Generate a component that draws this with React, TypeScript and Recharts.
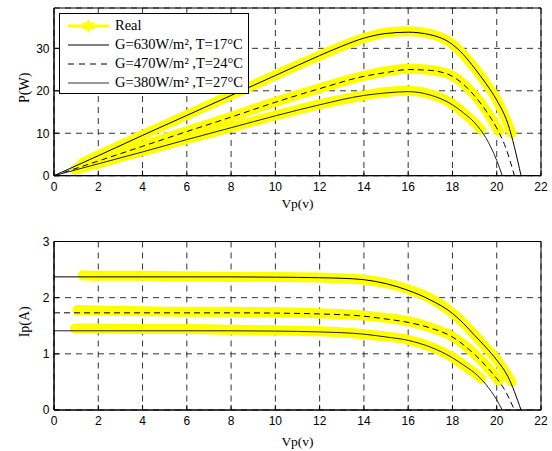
import React from "react";
import {CartesianGrid, Legend, Line, LineChart, ReferenceArea, XAxis, YAxis} from "recharts";

const vTicks = [0, 2, 4, 6, 8, 10, 12, 14, 16, 18, 20, 22];
const pTicks = [0, 10, 20, 30];
const iTicks = [0, 1, 2, 3];

// model G=630W/m², T=17°C
const model630V = [0, 2, 4, 6, 8, 10, 12, 13, 14, 15, 16, 17, 18, 18.5, 19, 19.5, 20, 20.5, 21.1];
const model630I = [2.37, 2.37, 2.37, 2.37, 2.37, 2.365, 2.355, 2.345, 2.32, 2.25, 2.13, 1.96, 1.72, 1.54, 1.33, 1.12, 0.89, 0.6, 0];
const model630P = [0, 4.7, 9.5, 14.2, 18.9, 23.6, 28.3, 30.5, 32.4, 33.5, 33.8, 33.2, 30.9, 28.5, 25.3, 21.8, 17.8, 12.3, 0];

// model G=470W/m², T=24°C
const model470V = [0, 2, 4, 6, 8, 10, 12, 14, 15, 16, 17, 18, 18.5, 19, 19.5, 20, 20.4, 20.8];
const model470I = [1.73, 1.73, 1.73, 1.73, 1.73, 1.725, 1.71, 1.67, 1.62, 1.56, 1.46, 1.3, 1.16, 0.99, 0.79, 0.56, 0.33, 0];
const model470P = [0, 3.46, 6.92, 10.4, 13.8, 17.3, 20.5, 23.4, 24.3, 25, 24.8, 23.4, 21.5, 18.8, 15.4, 11.2, 6.7, 0];

// model G=380W/m², T=27°C
const model380V = [0, 2, 4, 6, 8, 10, 12, 14, 15, 16, 17, 18, 18.5, 19, 19.5, 20, 20.25];
const model380I = [1.41, 1.41, 1.41, 1.41, 1.41, 1.405, 1.39, 1.35, 1.3, 1.24, 1.12, 0.93, 0.8, 0.66, 0.46, 0.18, 0];
const model380P = [0, 2.8, 5.6, 8.5, 11.3, 14.1, 16.7, 18.9, 19.5, 19.8, 19.0, 16.7, 14.8, 12.5, 9.0, 3.6, 0];

// measured ("Real")
const real630V = [1.3, 2, 4, 6, 8, 10, 12, 14, 15, 16, 17, 18, 19, 19.5, 20, 20.67];
const real630I = [2.4, 2.39, 2.39, 2.38, 2.37, 2.37, 2.36, 2.32, 2.26, 2.15, 1.99, 1.73, 1.34, 1.12, 0.9, 0.5];
const real630P = [3.1, 4.8, 9.6, 14.3, 19, 23.7, 28.3, 32.4, 33.7, 34.0, 33.4, 31.0, 25.4, 21.9, 17.9, 10];

const real470V = [1.05, 2, 4, 6, 8, 10, 12, 14, 15, 16, 17, 18, 19, 19.5, 20.1];
const real470I = [1.78, 1.77, 1.76, 1.75, 1.75, 1.74, 1.72, 1.68, 1.64, 1.58, 1.47, 1.31, 1.0, 0.8, 0.52];
const real470P = [1.9, 3.5, 7.0, 10.5, 13.9, 17.4, 20.6, 23.5, 24.6, 25.2, 24.9, 23.5, 19.0, 15.6, 10.4];

const real380V = [0.95, 2, 4, 6, 8, 10, 12, 14, 15, 16, 17, 18, 18.5, 19, 19.3];
const real380I = [1.45, 1.45, 1.44, 1.44, 1.43, 1.42, 1.4, 1.35, 1.31, 1.25, 1.13, 0.94, 0.8, 0.66, 0.56];
const real380P = [1.4, 2.9, 5.8, 8.6, 11.4, 14.2, 16.8, 18.9, 19.7, 20.0, 19.2, 16.9, 14.8, 12.5, 10.8];

const zip = (vs: number[], ys: number[]) => vs.map((v, i) => ({v, y: ys[i]}));

const YELLOW = "#ffff00";
const serif = '"Liberation Serif", "Times New Roman", serif';
const sans = '"Liberation Sans", Arial, sans-serif';
const tickStyle = {fontFamily: sans, fontSize: 12, fill: "#000"};

const Star = ({cx, cy, r}: { cx: number, cy: number, r: number }) => {
    const pts: string[] = [];
    for (let k = 0; k < 12; k++) {
        const a = -Math.PI / 2 + k * Math.PI / 6;
        const rr = k % 2 === 0 ? r : r * 0.5;
        pts.push(`${cx + rr * Math.cos(a)},${cy + rr * Math.sin(a)}`);
    }
    return <polygon points={pts.join(" ")} fill={YELLOW} stroke={YELLOW}/>;
};

const legendItems = [
    {label: "Real", kind: "real"},
    {label: "G=630W/m², T=17°C", kind: "solid"},
    {label: "G=470W/m² ,T=24°C", kind: "dashed"},
    {label: "G=380W/m² ,T=27°C", kind: "gray"},
];

const LegendBox = () => (
    <div style={{
        width: 190, height: 81, boxSizing: "border-box", border: "1px solid #000", background: "#fff",
        paddingTop: 2, fontFamily: serif, fontSize: 14.5, color: "#000"
    }}>
        {legendItems.map(item => (
            <div key={item.label} style={{display: "flex", alignItems: "center", height: 19}}>
                <svg width={42} height={16} style={{marginLeft: 8, flex: "none"}}>
                    {item.kind === "real" && <line x1={0} x2={41} y1={8} y2={8} stroke={YELLOW} strokeWidth={3}/>}
                    {item.kind === "real" && <Star cx={20.5} cy={8} r={6.5}/>}
                    {item.kind === "solid" && <line x1={0} x2={41} y1={8} y2={8} stroke="#000" strokeWidth={1}/>}
                    {item.kind === "dashed" &&
                        <line x1={0} x2={41} y1={8} y2={8} stroke="#000" strokeWidth={1} strokeDasharray="6 5"/>}
                    {item.kind === "gray" && <line x1={0} x2={41} y1={8} y2={8} stroke="#777" strokeWidth={1.6}/>}
                </svg>
                <span style={{marginLeft: 5, whiteSpace: "nowrap"}}>{item.label}</span>
            </div>
        ))}
    </div>
);

const PanelChart = (props: {
    height: number, top: number, xAxisHeight: number, yMax: number, yTicks: number[], yLabel: string,
    yLabelDy: number, xLabelOffset: number, yKey: "P" | "I", legend?: boolean
}) => {
    const {height, top, xAxisHeight, yMax, yTicks, yLabel, yLabelDy, xLabelOffset, yKey, legend} = props;
    const pick = (iArr: number[], pArr: number[]) => (yKey === "P" ? pArr : iArr);
    const reals = [
        zip(real630V, pick(real630I, real630P)),
        zip(real470V, pick(real470I, real470P)),
        zip(real380V, pick(real380I, real380P)),
    ];
    return (
        <LineChart width={552} height={height} margin={{top, right: 11, bottom: 0, left: 0}}>
            <CartesianGrid stroke="#333" strokeDasharray="6 5" strokeWidth={1}/>
            <XAxis type="number" dataKey="v" domain={[0, 22]} ticks={vTicks} interval={0}
                   height={xAxisHeight} axisLine={{stroke: "#000"}} tickLine={{stroke: "#000"}}
                   tickSize={-5} tickMargin={11.5} tick={tickStyle}
                   label={{
                       value: "Vp(v)", position: "insideBottom", offset: xLabelOffset,
                       style: {fontFamily: serif, fontSize: 13.5, fill: "#000"}
                   }}/>
            <XAxis xAxisId="top" orientation="top" type="number" domain={[0, 22]} ticks={vTicks} interval={0}
                   height={0} axisLine={{stroke: "#000"}} tickLine={{stroke: "#000"}} tickSize={-5}
                   tick={() => null}/>
            <YAxis type="number" domain={[0, yMax]} ticks={yTicks} interval={0} width={54}
                   allowDataOverflow axisLine={{stroke: "#000"}} tickLine={{stroke: "#000"}}
                   tickSize={-5} tickMargin={9.5} tick={tickStyle}
                   label={{
                       value: yLabel, angle: -90, position: "center", dx: -3, dy: yLabelDy,
                       style: {fontFamily: serif, fontSize: 14, fill: "#000"}
                   }}/>
            <YAxis yAxisId="right" orientation="right" type="number" domain={[0, yMax]} ticks={yTicks}
                   interval={0} width={0} allowDataOverflow axisLine={{stroke: "#000"}}
                   tickLine={{stroke: "#000"}} tickSize={-5} tick={() => null}/>
            <ReferenceArea x1={0} x2={22} y1={0} y2={yMax} fill="none" stroke="#000" strokeWidth={1}
                           ifOverflow="visible"/>
            {reals.map((d, i) => (
                <Line key={"real" + i} data={d} dataKey="y" name="Real" type="monotone" stroke={YELLOW}
                      strokeWidth={10} strokeLinecap="round" strokeLinejoin="round" dot={false}
                      isAnimationActive={false}/>
            ))}
            <Line data={zip(model630V, pick(model630I, model630P))} dataKey="y" type="monotone" stroke="#000"
                  strokeWidth={1} dot={false} isAnimationActive={false}/>
            <Line data={zip(model470V, pick(model470I, model470P))} dataKey="y" type="monotone" stroke="#000"
                  strokeWidth={1} strokeDasharray="6 4" dot={false} isAnimationActive={false}/>
            <Line data={zip(model380V, pick(model380I, model380P))} dataKey="y" type="monotone" stroke="#222"
                  strokeWidth={1} dot={false} isAnimationActive={false}/>
            {legend && (
                <Legend layout="vertical" align="center" verticalAlign="middle" content={() => <LegendBox/>}
                        wrapperStyle={{left: 59, top: 13, width: 190, height: 81}}/>
            )}
        </LineChart>
    );
};

const App = () => (
    <div style={{position: "absolute", left: 0, top: 0, width: 552, height: 451, background: "#fff"}}>
        <div style={{position: "absolute", left: 0, top: 0}}>
            <PanelChart height={215} top={8} xAxisHeight={39.3} yMax={39.5} yTicks={pTicks} yLabel="P(W)"
                        yLabelDy={-4} xLabelOffset={7.5} yKey="P" legend/>
        </div>
        <div style={{position: "absolute", left: 0, top: 215}}>
            <PanelChart height={236} top={26.5} xAxisHeight={41} yMax={3} yTicks={iTicks} yLabel="Ip(A)"
                        yLabelDy={-4} xLabelOffset={5} yKey="I"/>
        </div>
    </div>
);

export default App;
